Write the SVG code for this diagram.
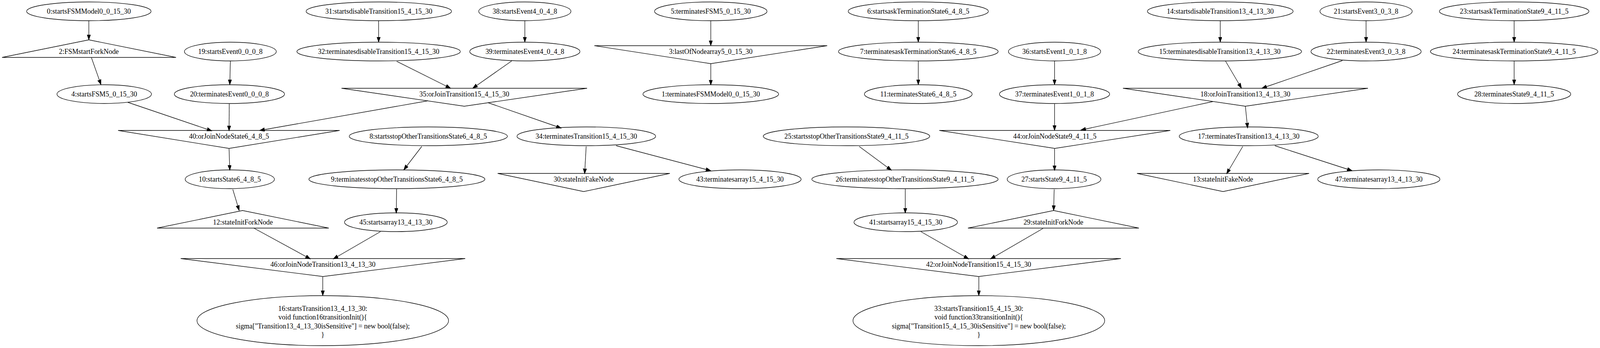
<svg xmlns="http://www.w3.org/2000/svg" width="4268" height="891" viewBox="0 0 4268 891">
<style>
.n ellipse,.n polygon{fill:none;stroke:#000;stroke-width:1.33}
text{font-family:"Liberation Serif","Times New Roman",serif;font-size:18.67px;text-anchor:middle;fill:#000}
.e path{fill:none;stroke:#000;stroke-width:1.33;marker-end:url(#a)}
</style>
<defs>
<marker id="a" markerUnits="userSpaceOnUse" markerWidth="16" markerHeight="12" refX="13.3" refY="4.7" orient="auto" viewBox="0 0 16 12">
<path d="M0,0 L13.3,4.7 L0,9.4 Z" fill="#000" stroke="#000" stroke-width="1"/>
</marker>
</defs>
<rect width="4268" height="891" fill="#fff"/>
<g id="diagram" transform="scale(0.9597,1)">
<g id="edges" class="e">
<path d="M237,53 L237,102"/>
<path d="M244,148 L269.5,217"/>
<path d="M614.5,156 L613,217"/>
<path d="M341,262 L565,335"/>
<path d="M611.5,266 L611,335"/>
<path d="M1142,258 L692.6,334"/>
<path d="M611,381 L613,436"/>
<path d="M621,485 L638,539"/>
<path d="M677,584 L828,663"/>
<path d="M1015,593 L889,663"/>
<path d="M861,709 L861,757"/>
<path d="M1010,53 L1010,108"/>
<path d="M1058,157 L1202,226"/>
<path d="M1400,53 L1400,108"/>
<path d="M1365,156 L1261,226"/>
<path d="M1302,263 L1497,328"/>
<path d="M1125,375 L1077,435"/>
<path d="M1058,484 L1057,546"/>
<path d="M1563.6,375 L1559.5,445"/>
<path d="M1643.5,373 L1896,437"/>
<path d="M1896,53 L1896,117"/>
<path d="M1896,163 L1896,218"/>
<path d="M2449.5,53 L2449.5,108"/>
<path d="M2449.5,156 L2449.5,217"/>
<path d="M2813,156 L2813,217"/>
<path d="M2813,266 L2813,334"/>
<path d="M3235.5,260 L2883,333"/>
<path d="M2813,381 L2813,437"/>
<path d="M2292,375 L2378,436"/>
<path d="M2414.8,484 L2414.8,546"/>
<path d="M2812,485 L2810.6,539"/>
<path d="M2456.4,593 L2584,663"/>
<path d="M2782,585 L2642,663"/>
<path d="M2611,709 L2611,757"/>
<path d="M3255,53 L3255,108"/>
<path d="M3268.8,156 L3311.8,226"/>
<path d="M3581,155 L3366,226"/>
<path d="M3322,272 L3328,328"/>
<path d="M3315,375 L3272,445"/>
<path d="M3400.6,373 L3606.7,437"/>
<path d="M3644,53 L3644,108"/>
<path d="M4039,53 L4039,108"/>
<path d="M4039,156 L4039,217"/>
</g>
<g id="n0" class="n"><ellipse cx="237" cy="29" rx="166" ry="24"/><text x="237" y="35">0:startsFSMModel0_0_15_30</text></g>
<g id="n31" class="n"><ellipse cx="1010.5" cy="29" rx="194" ry="24"/><text x="1010.5" y="35">31:startsdisableTransition15_4_15_30</text></g>
<g id="n38" class="n"><ellipse cx="1400" cy="29" rx="123" ry="24"/><text x="1400" y="35">38:startsEvent4_0_4_8</text></g>
<g id="n5" class="n"><ellipse cx="1896" cy="29" rx="150" ry="24"/><text x="1896" y="35">5:terminatesFSM5_0_15_30</text></g>
<g id="n6" class="n"><ellipse cx="2449.5" cy="29" rx="187" ry="24"/><text x="2449.5" y="35">6:startsaskTerminationState6_4_8_5</text></g>
<g id="n14" class="n"><ellipse cx="3255" cy="29" rx="194.4" ry="24"/><text x="3255" y="35">14:startsdisableTransition13_4_13_30</text></g>
<g id="n21" class="n"><ellipse cx="3644" cy="29" rx="123" ry="24"/><text x="3644" y="35">21:startsEvent3_0_3_8</text></g>
<g id="n23" class="n"><ellipse cx="4039" cy="29" rx="199.5" ry="24"/><text x="4039" y="35">23:startsaskTerminationState9_4_11_5</text></g>
<g id="n2" class="n"><polygon points="237,102 469.5,147 5.5,147"/><text x="237" y="138">2:FSMstartForkNode</text></g>
<g id="n19" class="n"><ellipse cx="614.5" cy="132" rx="122.5" ry="24"/><text x="614.5" y="138">19:startsEvent0_0_0_8</text></g>
<g id="n32" class="n"><ellipse cx="1010" cy="132" rx="218" ry="24"/><text x="1010" y="138">32:terminatesdisableTransition15_4_15_30</text></g>
<g id="n39" class="n"><ellipse cx="1400" cy="132" rx="147" ry="24"/><text x="1400" y="138">39:terminatesEvent4_0_4_8</text></g>
<g id="n3" class="n"><polygon points="1585.5,117 2206.5,117 1896,163"/><text x="1896" y="138">3:lastOfNodearray5_0_15_30</text></g>
<g id="n7" class="n"><ellipse cx="2449.5" cy="132" rx="213" ry="24"/><text x="2449.5" y="138">7:terminatesaskTerminationState6_4_8_5</text></g>
<g id="n36" class="n"><ellipse cx="2813" cy="132" rx="123" ry="24"/><text x="2813" y="138">36:startsEvent1_0_1_8</text></g>
<g id="n15" class="n"><ellipse cx="3254" cy="132" rx="218" ry="24"/><text x="3254" y="138">15:terminatesdisableTransition13_4_13_30</text></g>
<g id="n22" class="n"><ellipse cx="3644" cy="132" rx="147" ry="24"/><text x="3644" y="138">22:terminatesEvent3_0_3_8</text></g>
<g id="n24" class="n"><ellipse cx="4039" cy="132" rx="223.4" ry="24"/><text x="4039" y="138">24:terminatesaskTerminationState9_4_11_5</text></g>
<g id="n4" class="n"><ellipse cx="278" cy="241" rx="126" ry="24"/><text x="278" y="247">4:startsFSM5_0_15_30</text></g>
<g id="n20" class="n"><ellipse cx="612" cy="241" rx="147" ry="24"/><text x="612" y="247">20:terminatesEvent0_0_0_8</text></g>
<g id="n35" class="n"><polygon points="911,226 1566,226 1238.5,272"/><text x="1238.5" y="247">35:orJoinTransition15_4_15_30</text></g>
<g id="n1" class="n"><ellipse cx="1896" cy="241" rx="181" ry="24"/><text x="1896" y="247">1:terminatesFSMModel0_0_15_30</text></g>
<g id="n11" class="n"><ellipse cx="2449.5" cy="241" rx="143.7" ry="24"/><text x="2449.5" y="247">11:terminatesState6_4_8_5</text></g>
<g id="n37" class="n"><ellipse cx="2813" cy="241" rx="147" ry="24"/><text x="2813" y="247">37:terminatesEvent1_0_1_8</text></g>
<g id="n18" class="n"><polygon points="2995.5,226 3649,226 3322,272"/><text x="3322" y="247">18:orJoinTransition13_4_13_30</text></g>
<g id="n28" class="n"><ellipse cx="4039" cy="241" rx="151" ry="24"/><text x="4039" y="247">28:terminatesState9_4_11_5</text></g>
<g id="n40" class="n"><polygon points="315,334 906,334 611,380"/><text x="611" y="355">40:orJoinNodeState6_4_8_5</text></g>
<g id="n8" class="n"><ellipse cx="1142.5" cy="349" rx="211" ry="24"/><text x="1142.5" y="355">8:startsstopOtherTransitionsState6_4_8_5</text></g>
<g id="n34" class="n"><ellipse cx="1564" cy="349" rx="185" ry="24"/><text x="1564" y="355">34:terminatesTransition15_4_15_30</text></g>
<g id="n25" class="n"><ellipse cx="2258" cy="349" rx="222" ry="24"/><text x="2258" y="355">25:startsstopOtherTransitionsState9_4_11_5</text></g>
<g id="n44" class="n"><polygon points="2505.6,334 3121.8,334 2813.7,380"/><text x="2813.7" y="355">44:orJoinNodeState9_4_11_5</text></g>
<g id="n17" class="n"><ellipse cx="3331" cy="349" rx="185.4" ry="24"/><text x="3331" y="355">17:terminatesTransition13_4_13_30</text></g>
<g id="n10" class="n"><ellipse cx="613" cy="459" rx="119" ry="24"/><text x="613" y="465">10:startsState6_4_8_5</text></g>
<g id="n9" class="n"><ellipse cx="1058.7" cy="459" rx="234.7" ry="24"/><text x="1058.7" y="465">9:terminatesstopOtherTransitionsState6_4_8_5</text></g>
<g id="n30" class="n"><polygon points="1327.5,444 1786.8,444 1557,490.5"/><text x="1557" y="465">30:stateInitFakeNode</text></g>
<g id="n43" class="n"><ellipse cx="1974" cy="459" rx="163" ry="24"/><text x="1974" y="465">43:terminatesarray15_4_15_30</text></g>
<g id="n26" class="n"><ellipse cx="2414" cy="459" rx="248.4" ry="24"/><text x="2414" y="465">26:terminatesstopOtherTransitionsState9_4_11_5</text></g>
<g id="n27" class="n"><ellipse cx="2811.7" cy="459" rx="125" ry="24"/><text x="2811.7" y="465">27:startsState9_4_11_5</text></g>
<g id="n13" class="n"><polygon points="3033,444 3492,444 3262.5,490.5"/><text x="3262.5" y="465">13:stateInitFakeNode</text></g>
<g id="n47" class="n"><ellipse cx="3678" cy="459" rx="163" ry="24"/><text x="3678" y="465">47:terminatesarray13_4_13_30</text></g>
<g id="n12" class="n"><polygon points="647,539 877,584 419,584"/><text x="648" y="575">12:stateInitForkNode</text></g>
<g id="n45" class="n"><ellipse cx="1056" cy="569" rx="137" ry="24"/><text x="1056" y="575">45:startsarray13_4_13_30</text></g>
<g id="n41" class="n"><ellipse cx="2416" cy="569" rx="138" ry="24"/><text x="2416" y="575">41:startsarray15_4_15_30</text></g>
<g id="n29" class="n"><polygon points="2810.6,539 3038,584 2582,584"/><text x="2810" y="575">29:stateInitForkNode</text></g>
<g id="n46" class="n"><polygon points="482,662 1241,662 861.5,708"/><text x="861.5" y="683">46:orJoinNodeTransition13_4_13_30</text></g>
<g id="n42" class="n"><polygon points="2231,662 2990,662 2610.6,708"/><text x="2610.6" y="683">42:orJoinNodeTransition15_4_15_30</text></g>
<g id="n16" class="n"><ellipse cx="861" cy="821" rx="335.5" ry="64"/>
<text x="861" y="796">16:startsTransition13_4_13_30:</text>
<text x="861" y="818.4">void function16transitionInit(){</text>
<text x="861" y="840.8">sigma["Transition13_4_13_30isSensitive"] = new bool(false);</text>
<text x="861" y="863.2">}</text></g>
<g id="n33" class="n"><ellipse cx="2611" cy="821" rx="335.7" ry="64"/>
<text x="2611" y="796">33:startsTransition15_4_15_30:</text>
<text x="2611" y="818.4">void function33transitionInit(){</text>
<text x="2611" y="840.8">sigma["Transition15_4_15_30isSensitive"] = new bool(false);</text>
<text x="2611" y="863.2">}</text></g>
</g>
</svg>
